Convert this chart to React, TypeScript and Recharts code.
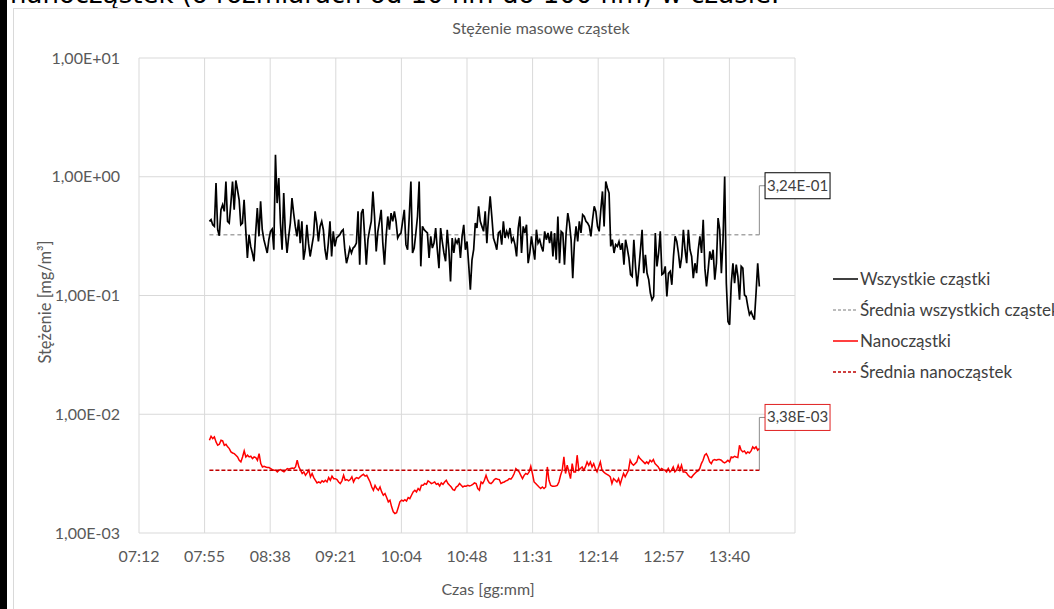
import { LineChart, Line, XAxis, YAxis, CartesianGrid, ReferenceDot } from "recharts";

// time axis in fractions of a day (0.3 = 07:12)
const xTicks = [0.3, 0.33, 0.36, 0.39, 0.42, 0.45, 0.48, 0.51, 0.54, 0.57, 0.6];
const xTickLabels = ["07:12", "07:55", "08:38", "09:21", "10:04", "10:48", "11:31", "12:14", "12:57", "13:40", ""];
const yTicks = [0.001, 0.01, 0.1, 1, 10];
const yTickLabels = ["1,00E-03", "1,00E-02", "1,00E-01", "1,00E+00", "1,00E+01"];

const sampleStart = 0.3322; // ~07:58
const sampleEnd = 0.5837; // ~14:00
const labelX = 0.5863;

const meanAll = 0.324;
const meanNano = 0.00338;
const meanAllText = "3,24E-01";
const meanNanoText = "3,38E-03";
const leaderTopAll = 0.84;
const leaderTopNano = 0.0094;

// Wszystkie cząstki [mg/m3]
const allA = [
  0.421, 0.435, 0.394, 0.382, 0.884, 0.358, 0.319, 0.527, 0.581, 0.511,
  0.913, 0.421, 0.407, 0.6, 0.913, 0.527, 0.93, 0.777, 0.64, 0.394,
  0.407, 0.64, 0.358, 0.207, 0.325, 0.259, 0.228, 0.194, 0.336, 0.545,
  0.315, 0.62, 0.358, 0.295, 0.259, 0.228, 0.295, 0.347, 0.362, 0.243,
  1.53, 0.6, 0.975, 0.407, 0.243, 0.729, 0.336, 0.228, 0.315, 0.407,
  0.661, 0.494, 0.382, 0.315, 0.435, 0.276, 0.421, 0.2, 0.243, 0.394,
  0.276, 0.213, 0.259, 0.315, 0.511, 0.407, 0.285, 0.382, 0.421, 0.358,
  0.243, 0.2, 0.276, 0.421, 0.213, 0.347, 0.259, 0.305, 0.315, 0.325,
  0.347, 0.358,
];
const allB = [
  0.243, 0.187, 0.213, 0.251, 0.228, 0.251, 0.259, 0.276, 0.511, 0.182,
  0.494, 0.534, 0.315, 0.182, 0.295, 0.358, 0.421, 0.752, 0.463, 0.235,
  0.347, 0.421, 0.527, 0.276, 0.182, 0.315, 0.463, 0.358, 0.494, 0.421,
  0.511, 0.421, 0.305, 0.325, 0.336, 0.421, 0.527, 0.268, 0.243, 0.463,
  0.913, 0.228, 0.251, 0.336, 0.463, 0.913, 0.176, 0.382, 0.358, 0.347,
  0.336, 0.207, 0.315, 0.251, 0.276, 0.37, 0.243, 0.17, 0.37, 0.285,
  0.228, 0.194, 0.358, 0.243, 0.131, 0.305, 0.228, 0.295, 0.276, 0.305,
  0.207, 0.315, 0.394, 0.243, 0.285, 0.182, 0.112, 0.2, 0.243, 0.407,
  0.37, 0.563, 0.421, 0.382,
];
const allC = [
  0.347, 0.511, 0.276, 0.463, 0.683, 0.463, 0.305, 0.276, 0.243, 0.336,
  0.347, 0.268, 0.421, 0.305, 0.347, 0.315, 0.37, 0.285, 0.305, 0.268,
  0.213, 0.37, 0.463, 0.228, 0.382, 0.336, 0.394, 0.187, 0.228, 0.315,
  0.251, 0.2, 0.358, 0.276, 0.295, 0.259, 0.235, 0.347, 0.295, 0.336,
  0.276, 0.347, 0.213, 0.336, 0.2, 0.463, 0.187, 0.347, 0.336, 0.182,
  0.336, 0.494, 0.407, 0.295, 0.14, 0.276, 0.382, 0.285, 0.421, 0.336,
  0.479, 0.463, 0.421, 0.407, 0.382, 0.315, 0.435, 0.563, 0.511, 0.382,
  0.347, 0.527, 0.752, 0.382, 0.913, 0.803, 0.729, 0.259, 0.295, 0.228,
  0.268, 0.259, 0.285, 0.243, 0.276, 0.182,
];
const allD = [
  0.295, 0.251, 0.207, 0.15, 0.145, 0.295, 0.176, 0.119, 0.165, 0.243,
  0.358, 0.154, 0.22, 0.154, 0.136, 0.105, 0.092, 0.098, 0.336, 0.176,
  0.228, 0.347, 0.15, 0.154, 0.176, 0.098, 0.154, 0.16, 0.123, 0.213,
  0.315, 0.285, 0.228, 0.17, 0.213, 0.358, 0.243, 0.187, 0.358, 0.243,
  0.213, 0.14, 0.187, 0.154, 0.243, 0.315, 0.228, 0.435, 0.17, 0.119,
  0.165, 0.235, 0.2, 0.243, 0.136, 0.187, 0.449, 0.358, 0.154, 0.295,
  1.006, 0.127, 0.0605, 0.0567, 0.127, 0.187, 0.127, 0.182, 0.145, 0.092,
  0.176, 0.17, 0.101, 0.098, 0.081, 0.069, 0.073, 0.067, 0.0625, 0.105,
  0.187, 0.119,
];

// Nanocząstki [mg/m3]
const nanoA = [
  0.00604, 0.00653, 0.00624, 0.00644, 0.00585, 0.00548, 0.00559, 0.00604, 0.00596, 0.00548,
  0.00559, 0.00531, 0.00514, 0.00482, 0.00472, 0.00466, 0.00452, 0.00437, 0.0041, 0.00397,
  0.00437, 0.00491, 0.00437, 0.00452, 0.00437, 0.00443, 0.00423, 0.00437, 0.00432, 0.0041,
  0.00466, 0.00384, 0.0036, 0.00365, 0.0036, 0.00356, 0.00356, 0.00349, 0.00342, 0.00338,
  0.00338, 0.00327, 0.00338, 0.00342, 0.00333, 0.00327, 0.00338, 0.00349, 0.00344, 0.00349,
  0.00353, 0.00349, 0.0036, 0.0041, 0.0036, 0.00338, 0.00317, 0.00327, 0.00306, 0.00321,
  0.00338, 0.00297, 0.00317, 0.00293, 0.00278, 0.00264, 0.00269, 0.00264, 0.00275, 0.00269,
  0.00278, 0.00269, 0.00293, 0.00278, 0.00301, 0.00287, 0.00287, 0.00282, 0.00269, 0.00261,
  0.00275, 0.00306, 0.00278, 0.00282, 0.00275, 0.00282, 0.00297, 0.00269, 0.00287, 0.00293,
  0.00287, 0.00297, 0.00306, 0.00312, 0.00301, 0.00306, 0.00287, 0.00269, 0.00244, 0.00229,
  0.00252, 0.00237, 0.00229, 0.00244, 0.00222, 0.00208, 0.00215, 0.00199, 0.00183, 0.00189,
  0.00166, 0.00151, 0.00146, 0.00148, 0.00164, 0.00183, 0.00189, 0.00186, 0.00191, 0.00186,
  0.00199, 0.00195, 0.00208, 0.00222, 0.00229, 0.00222, 0.00237, 0.00229, 0.00252, 0.00252,
  0.00261, 0.00257, 0.00275, 0.00269, 0.00261, 0.00264, 0.00269, 0.00257, 0.00261, 0.00249,
  0.00264, 0.00257, 0.00269, 0.00278, 0.00261, 0.00252, 0.00244, 0.00232, 0.00229, 0.00244,
  0.00249, 0.00261, 0.00252, 0.00244, 0.00249, 0.00248, 0.00252, 0.00249, 0.00252, 0.00257,
  0.00264, 0.00261, 0.00237, 0.00229, 0.00269, 0.00261, 0.00278, 0.00306, 0.00278, 0.00264,
  0.00261, 0.00269, 0.00282, 0.00287, 0.00284, 0.00282,
];
const nanoB = [
  0.00261, 0.00266, 0.00269, 0.00275, 0.00278, 0.00287, 0.00284, 0.00297, 0.00317, 0.00349,
  0.00338, 0.00327, 0.00306, 0.00287, 0.00306, 0.00317, 0.00312, 0.00327, 0.00365, 0.00317,
  0.00269, 0.00261, 0.00252, 0.00244, 0.00237, 0.00244, 0.00237, 0.00244, 0.0036, 0.00278,
  0.00252, 0.00248, 0.00248, 0.00249, 0.00252, 0.00269, 0.00306, 0.00338, 0.00437, 0.00317,
  0.00372, 0.00327, 0.00287, 0.00384, 0.00327, 0.00327, 0.00452, 0.00338, 0.00349, 0.0036,
  0.00338, 0.0036, 0.00397, 0.00372, 0.00397, 0.0036, 0.00384, 0.00349, 0.00327, 0.0036,
  0.00397, 0.00338, 0.00327, 0.00317, 0.00312, 0.00306, 0.00297, 0.00261, 0.00287, 0.00278,
  0.00269, 0.00287, 0.00257, 0.00287, 0.00317, 0.00297, 0.00317, 0.00338, 0.0041, 0.00384,
  0.00372, 0.00384, 0.00397, 0.00443, 0.00423, 0.0041, 0.00397, 0.00384, 0.00397, 0.00384,
  0.0041, 0.00397, 0.00415, 0.00384, 0.00372, 0.0036, 0.00338, 0.00349, 0.00342, 0.00338,
  0.00327, 0.00349, 0.00327, 0.00338, 0.0036, 0.00327, 0.00338, 0.00372, 0.00338, 0.00372,
  0.00327, 0.00327, 0.00321, 0.00306, 0.00297, 0.00293, 0.00306, 0.00317, 0.00327, 0.00333,
  0.00349, 0.00384, 0.0041, 0.00452, 0.00466, 0.00437, 0.00397, 0.00384, 0.0041, 0.00415,
  0.0041, 0.00415, 0.00415, 0.0041, 0.00397, 0.00389, 0.00397, 0.0041, 0.00397, 0.00437,
  0.00432, 0.00443, 0.00437, 0.00432, 0.00548, 0.00498, 0.00482, 0.00491, 0.00466, 0.00482,
  0.00472, 0.00491, 0.00531, 0.00514, 0.00531, 0.00498, 0.00514,
];

const toPoints = (vals: number[]) =>
  vals.map((v, i) => ({ t: sampleStart + (i * (sampleEnd - sampleStart)) / (vals.length - 1), v }));

const allData = toPoints([...allA, ...allB, ...allC, ...allD]);
const nanoData = toPoints([...nanoA, ...nanoB]);
const meanAllData = [{ t: sampleStart, v: meanAll }, { t: sampleEnd, v: meanAll }];
const meanNanoData = [{ t: sampleStart, v: meanNano }, { t: sampleEnd, v: meanNano }];
const leaderAll = [{ t: sampleEnd, v: meanAll }, { t: sampleEnd, v: leaderTopAll }, { t: labelX, v: leaderTopAll }];
const leaderNano = [{ t: sampleEnd, v: meanNano }, { t: sampleEnd, v: leaderTopNano }, { t: labelX, v: leaderTopNano }];

const legendItems = [
  { name: "Wszystkie cząstki", color: "#000000", dash: undefined },
  { name: "Średnia wszystkich cząstek", color: "#a6a6a6", dash: "3 2" },
  { name: "Nanocząstki", color: "#ff0000", dash: undefined },
  { name: "Średnia nanocząstek", color: "#c00000", dash: "3 2" },
];

const FONT = "Lato, 'Open Sans', sans-serif";
const GREY = "#595959";

const ValueBox = ({ cx, cy, text, border }: any) => (
  <g>
    <rect x={cx} y={cy - 13} width={65} height={26} fill="#fff" stroke={border} strokeWidth={1} />
    <text x={cx + 32.5} y={cy + 5} textAnchor="middle" fontSize={15} fontFamily={FONT} fill="#404040">
      {text}
    </text>
  </g>
);

export default function App() {
  return (
    <div
      style={{
        position: "absolute",
        left: 0,
        top: 0,
        width: 1054,
        height: 609,
        overflow: "hidden",
        background: "#fff",
        fontFamily: FONT,
      }}
    >
      {/* bottom of the document sentence above the chart, cut by the crop */}
      <div
        style={{
          position: "absolute",
          left: 10,
          top: -21,
          fontFamily: "'DejaVu Sans', sans-serif",
          fontSize: 26,
          lineHeight: "30px",
          whiteSpace: "nowrap",
          color: "#000",
        }}
      >
        nanocząstek (o rozmiarach od 10 nm do 100 nm) w czasie.
      </div>
      <div style={{ position: "absolute", left: 0, top: 0, width: 7, height: 609, background: "#000" }} />
      <div style={{ position: "absolute", left: 13, top: 8, width: 1041, height: 601, borderLeft: "1px solid #d9d9d9", borderTop: "1px solid #d9d9d9", background: "transparent" }} />

      <div style={{ position: "absolute", left: 0, top: 18, width: 1082, textAlign: "center", fontSize: 16, color: GREY }}>
        Stężenie masowe cząstek
      </div>
      <div
        style={{
          position: "absolute",
          left: 45,
          top: 302,
          transform: "translate(-50%, -50%) rotate(-90deg)",
          fontSize: 16.5,
          color: GREY,
          whiteSpace: "nowrap",
        }}
      >
        Stężenie [mg/m³]
      </div>
      <div style={{ position: "absolute", left: 488, top: 588, transform: "translate(-50%, -50%)", fontSize: 16, color: GREY, whiteSpace: "nowrap" }}>
        Czas [gg:mm]
      </div>

      <div style={{ position: "absolute", left: 0, top: 0 }}>
        <LineChart width={1054} height={609} margin={{ top: 58, right: 259, bottom: 46, left: 19 }}>
          <CartesianGrid stroke="#d9d9d9" strokeWidth={1} horizontalValues={yTicks} verticalValues={xTicks} />
          <XAxis
            dataKey="t"
            type="number"
            domain={[0.3, 0.6]}
            ticks={xTicks}
            interval={0}
            height={30}
            tickFormatter={(_v: number, i: number) => xTickLabels[i]}
            axisLine={false}
            tickLine={false}
            tickSize={0}
            tickMargin={18}
            tick={{ fill: GREY, fontSize: 16, fontFamily: FONT }}
            allowDataOverflow
          />
          <YAxis
            dataKey="v"
            type="number"
            scale="log"
            domain={[0.001, 10]}
            ticks={yTicks}
            interval={0}
            width={120}
            tickFormatter={(_v: number, i: number) => yTickLabels[i]}
            axisLine={false}
            tickLine={false}
            tickSize={0}
            tickMargin={19}
            tick={{ fill: GREY, fontSize: 16, fontFamily: FONT }}
            allowDataOverflow
          />
          <Line data={leaderAll} dataKey="v" stroke="#8c8c8c" strokeWidth={1} dot={false} isAnimationActive={false} />
          <Line data={leaderNano} dataKey="v" stroke="#8c8c8c" strokeWidth={1} dot={false} isAnimationActive={false} />
          <Line data={meanAllData} dataKey="v" stroke="#a6a6a6" strokeWidth={1.5} strokeDasharray="4 3" dot={false} isAnimationActive={false} />
          <Line data={allData} dataKey="v" stroke="#000" strokeWidth={1.7} dot={false} isAnimationActive={false} />
          <Line data={nanoData} dataKey="v" stroke="#ff0000" strokeWidth={1.5} dot={false} isAnimationActive={false} />
          <Line data={meanNanoData} dataKey="v" stroke="#c00000" strokeWidth={1.5} strokeDasharray="4 2" dot={false} isAnimationActive={false} />
          <ReferenceDot
            x={labelX}
            y={leaderTopAll}
            ifOverflow="visible"
            shape={(p: any) => <ValueBox cx={p.cx} cy={p.cy} text={meanAllText} border="#000" />}
          />
          <ReferenceDot
            x={labelX}
            y={leaderTopNano}
            ifOverflow="visible"
            shape={(p: any) => <ValueBox cx={p.cx} cy={p.cy} text={meanNanoText} border="#e02020" />}
          />
        </LineChart>
      </div>

      <div style={{ position: "absolute", left: 833, top: 263 }}>
        {legendItems.map((it) => (
          <div key={it.name} style={{ display: "flex", alignItems: "center", height: 31, whiteSpace: "nowrap" }}>
            <svg width={25} height={4} style={{ marginRight: 2 }}>
              <line x1={0} y1={2} x2={25} y2={2} stroke={it.color} strokeWidth={1.5} strokeDasharray={it.dash} />
            </svg>
            <span style={{ fontSize: 17, color: "#404040" }}>{it.name}</span>
          </div>
        ))}
      </div>
    </div>
  );
}
